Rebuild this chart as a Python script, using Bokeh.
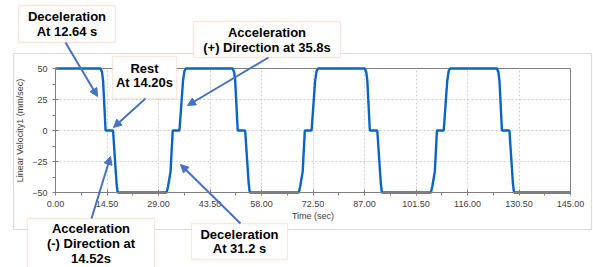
from bokeh.plotting import figure
from bokeh.models import (Range1d, FixedTicker, NumeralTickFormatter, BoxAnnotation,
                          Label, Arrow, NormalHead, Grid)
from bokeh.embed import file_html
from bokeh.resources import INLINE

# ---- data ----
time_s = [0, 12.7, 13.1, 13.4, 14.1, 16.2, 17.2, 17.5, 31.3, 31.7, 32.4, 33.0, 34.9, 35.9, 36.3, 36.7,
          49.9, 50.3, 50.6, 51.3, 53.4, 54.4, 54.7, 68.5, 68.9, 69.6, 70.2, 72.1, 73.1, 73.5, 73.9,
          87.1, 87.5, 87.8, 88.5, 90.6, 91.6, 91.9, 105.7, 106.1, 106.8, 107.4, 109.3, 110.3, 110.7, 111.1,
          124.3, 124.7, 125.0, 125.7, 127.8, 128.8, 129.1, 145]
velocity = [50, 50, 47, 40, 0, 0, -43, -50, -50, -45, -33, 0, 0, 40, 48, 50,
            50, 47, 40, 0, 0, -43, -50, -50, -45, -33, 0, 0, 40, 48, 50,
            50, 47, 40, 0, 0, -43, -50, -50, -45, -33, 0, 0, 40, 48, 50,
            50, 47, 40, 0, 0, -43, -50, -50]
x_ticks = [0, 14.5, 29, 43.5, 58, 72.5, 87, 101.5, 116, 130.5, 145]
x_minor = [7.25, 21.75, 36.25, 50.75, 65.25, 79.75, 94.25, 108.75, 123.25, 137.75]
y_ticks = [-50, -25, 0, 25, 50]
y_minor = [-37.5, -12.5, 12.5, 37.5]

notes = [["Deceleration", "At 12.64 s"],
         ["Rest", "At 14.20s"],
         ["Acceleration", "(+) Direction at 35.8s"],
         ["Acceleration", "(-) Direction at", "14.52s"],
         ["Deceleration", "At 31.2 s"]]

W, H = 593, 267
# plot-area placement (pixels) of the data box 0..145 x -50..50
FL, FR, FT, FB = 55, 570, 68, 192
XMIN, XMAX, YMIN, YMAX = 0, 145, -50, 50


def tx(px):
    return XMIN + (px - FL) * (XMAX - XMIN) / (FR - FL)


def ty(py):
    return YMAX - (py - FT) * (YMAX - YMIN) / (FB - FT)


p = figure(width=W, height=H, output_backend="svg", toolbar_location=None,
           x_range=Range1d(tx(0), tx(W)), y_range=Range1d(ty(H), ty(0)),
           min_border=0, min_border_left=0, min_border_right=0, min_border_top=0, min_border_bottom=0)
p.background_fill_color = "white"
p.border_fill_color = "white"
p.outline_line_color = None

# grid limited to the plot area
has_cross = "cross_bounds" in Grid.properties()
for g, cb in ((p.xgrid[0], (YMIN, YMAX)), (p.ygrid[0], (XMIN, XMAX))):
    g.grid_line_color = "#cfcfcf"
    g.grid_line_dash = "2 2"
    g.grid_line_width = 1
    if has_cross:
        g.cross_bounds = cb
if not has_cross:
    p.xgrid[0].visible = False
    p.ygrid[0].visible = False
    p.segment(x0=x_ticks, y0=[YMIN] * len(x_ticks), x1=x_ticks, y1=[YMAX] * len(x_ticks),
              line_color="#cfcfcf", line_dash="2 2", line_width=1)
    p.segment(x0=[XMIN] * len(y_ticks), y0=y_ticks, x1=[XMAX] * len(y_ticks), y1=y_ticks,
              line_color="#cfcfcf", line_dash="2 2", line_width=1)

# plot-area border
p.quad(left=[XMIN], right=[XMAX], bottom=[YMIN], top=[YMAX], fill_alpha=0,
       line_color="#7f7f7f", line_width=1)

p.line(time_s, velocity, line_color="#0a64c8", line_width=2.4)

xa, ya = p.xaxis[0], p.yaxis[0]
xa.fixed_location = YMIN
ya.fixed_location = XMIN
xa.bounds = (XMIN, XMAX)
ya.bounds = (YMIN, YMAX)
for ax, ticks, minor in ((xa, x_ticks, x_minor), (ya, y_ticks, y_minor)):
    ax.ticker = FixedTicker(ticks=ticks, minor_ticks=minor)
    ax.axis_line_color = "#7f7f7f"
    ax.major_tick_line_color = "#7f7f7f"
    ax.minor_tick_line_color = "#7f7f7f"
    ax.major_tick_in = 3
    ax.major_tick_out = 3
    ax.minor_tick_in = 0
    ax.minor_tick_out = 3
    ax.major_label_text_font = "Liberation Sans"
    ax.major_label_text_font_size = "9px"
    ax.major_label_text_color = "#404040"
    ax.axis_label_text_font = "Liberation Sans"
    ax.axis_label_text_font_size = "9px"
    ax.axis_label_text_font_style = "normal"
    ax.axis_label_text_color = "#404040"

xa.formatter = NumeralTickFormatter(format="0.00")
xa.axis_label = "Time (sec)"
xa.major_label_standoff = 5
xa.axis_label_standoff = 1
ya.axis_label = "Linear Velocity1 (mm/sec)"
ya.major_label_standoff = 5
ya.axis_label_standoff = 4

# outer chart border
p.add_layout(BoxAnnotation(left=tx(13), right=tx(591), top=ty(53), bottom=ty(229),
                           fill_alpha=0, line_color="#8c8c8c", line_width=1.2))

boxes = [(18, 115, 5, 42), (112, 176, 56, 98), (193, 340, 21, 57), (27, 154, 218, 280), (191, 287, 223, 259)]
line_pos = [[(66.5, 16), (66.5, 31)],
            [(144, 68), (144, 82)],
            [(266.5, 32), (266.5, 47)],
            [(90.5, 228), (90.5, 243), (90.5, 258)],
            [(239, 234), (239, 248)]]
arrows = [((65, 42), (97, 96)), ((145, 98), (113, 127)), ((268, 57), (187, 105)),
          ((91, 218), (110, 156)), ((240, 223), (180, 164))]

for (l, r, t, b) in boxes:
    p.add_layout(BoxAnnotation(left=tx(l), right=tx(r), top=ty(t), bottom=ty(b),
                               fill_color="white", fill_alpha=1, line_color="#f4b183", line_width=1.3))

for lines, poss in zip(notes, line_pos):
    for txt, (cx, cy) in zip(lines, poss):
        p.add_layout(Label(x=tx(cx), y=ty(cy), text=txt, text_align="center", text_baseline="middle",
                           text_font="Liberation Sans", text_font_style="bold", text_font_size="13px",
                           text_color="black"))

for (s, e) in arrows:
    p.add_layout(Arrow(x_start=tx(s[0]), y_start=ty(s[1]), x_end=tx(e[0]), y_end=ty(e[1]),
                       line_color="#4472c4", line_width=2,
                       end=NormalHead(size=8, fill_color="#4472c4", line_color="#4472c4")))

open("out.html", "w").write(file_html(p, INLINE))
